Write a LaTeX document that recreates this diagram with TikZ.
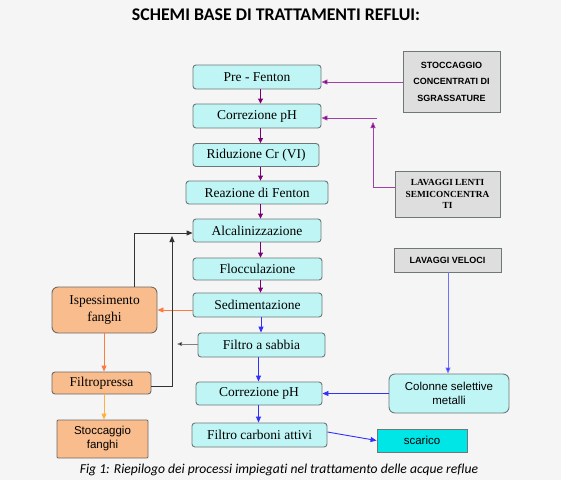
\documentclass[tikz,border=0pt]{standalone}
\usepackage{fontspec}
\setmainfont{Liberation Serif}
\setsansfont{Liberation Sans}
\newfontfamily\calfont[Ligatures=NoCommon]{Carlito}
\usetikzlibrary{arrows.meta}
\definecolor{bgc}{HTML}{F5F5F5}
\definecolor{cyanl}{HTML}{C0F5F5}
\definecolor{bordc}{HTML}{6E7878}
\definecolor{orfill}{HTML}{F9BC8C}
\definecolor{orbord}{HTML}{6E6A66}
\definecolor{grfill}{HTML}{DEDEDE}
\definecolor{scafill}{HTML}{00E6E6}
\definecolor{purl}{HTML}{A040A8}
\definecolor{purt}{HTML}{7A007A}
\definecolor{orl}{HTML}{FF7A40}
\definecolor{orl2}{HTML}{FFB040}
\definecolor{bluel}{HTML}{3030FF}
\definecolor{bluel2}{HTML}{7070FF}
\definecolor{blk}{HTML}{333333}
\begin{document}
\begin{tikzpicture}[x=1pt,y=-1pt,
  proc/.style={draw=bordc, fill=cyanl, rounded corners=3pt, line width=0.9pt, inner sep=0pt,
    font=\fontsize{13.5}{15}\selectfont},
  sludge/.style={draw=orbord, fill=orfill, line width=0.9pt, inner sep=0pt, align=center,
    font=\fontsize{13.5}{17}\selectfont},
  src/.style={draw=bordc, fill=grfill, line width=0.9pt, inner sep=0pt, align=center},
  pl/.style={draw=purl, line width=0.9pt},
  bl/.style={draw=bluel, line width=0.9pt},
]
\fill[bgc] (0,0) rectangle (561,480);
\useasboundingbox (0,0) rectangle (561,480);

\node[font=\calfont\bfseries\fontsize{17.8}{20}\selectfont] (title) at (276,15) {SCHEMI BASE DI TRATTAMENTI REFLUI:};

\node[proc, minimum width=128pt, minimum height=24pt] (pre) at (257,77) {Pre - Fenton};
\node[proc, minimum width=128pt, minimum height=24pt] (corr1) at (257,116) {Correzione pH};
\node[proc, minimum width=126pt, minimum height=23pt] (rid) at (256,155) {Riduzione Cr (VI)};
\node[proc, minimum width=142pt, minimum height=23pt] (rea) at (257,192.5) {Reazione di Fenton};
\node[proc, minimum width=128pt, minimum height=23pt] (alc) at (257,230.5) {Alcalinizzazione};
\node[proc, minimum width=129pt, minimum height=22pt] (flo) at (257.5,269) {Flocculazione};
\node[proc, minimum width=129pt, minimum height=24pt] (sed) at (257.5,305) {Sedimentazione};
\node[proc, minimum width=127pt, minimum height=24pt] (fil) at (261.5,345) {Filtro a sabbia};
\node[proc, minimum width=126pt, minimum height=23pt] (corr2) at (259,393.5) {Correzione pH};
\node[proc, minimum width=135pt, minimum height=24pt] (carb) at (259.5,435) {Filtro carboni attivi};

\node[sludge, rounded corners=6pt, minimum width=105pt, minimum height=46pt] (isp) at (104.5,310) {Ispessimento\\fanghi};
\node[sludge, rounded corners=3pt, minimum width=99pt, minimum height=22pt] (fpr) at (101.5,383) {Filtropressa};
\node[sludge, rounded corners=1pt, minimum width=91pt, minimum height=38pt,
  font=\sffamily\fontsize{11.5}{14}\selectfont] (stf) at (102.5,439) {Stoccaggio\\fanghi};

\node[src, minimum width=97pt, minimum height=61pt, font=\sffamily\bfseries\fontsize{9}{16.5}\selectfont] (stc) at (451.5,81.5) {STOCCAGGIO\\CONCENTRATI DI\\SGRASSATURE};
\node[src, minimum width=105pt, minimum height=46pt, font=\bfseries\fontsize{9.3}{11.5}\selectfont] (lav) at (447.5,194) {LAVAGGI LENTI\\SEMICONCENTRA\\TI};
\node[src, minimum width=107pt, minimum height=24pt, font=\sffamily\bfseries\fontsize{9}{11}\selectfont] (lavv) at (447.5,260) {LAVAGGI VELOCI};
\node[proc, rounded corners=6pt, align=center, minimum width=120pt, minimum height=39pt,
  font=\sffamily\fontsize{11.5}{14}\selectfont] (col) at (449,393.5) {Colonne selettive\\metalli};
\node[draw=bordc, fill=scafill, line width=0.9pt, inner sep=0pt, minimum width=90pt, minimum height=23pt,
  font=\sffamily\fontsize{11.5}{14}\selectfont] (sca) at (422,440.5) {scarico};

\node[font=\calfont\itshape\fontsize{13.6}{15}\selectfont] (cap) at (279,470) {Fig 1: Riepilogo dei processi impiegati nel trattamento delle acque reflue};

% coordinates
\coordinate (ax) at (260.5,0);
\coordinate (bx) at (258.5,0);
\coordinate (lx) at (373,122);
\coordinate (lx2) at (377,118);
\coordinate (kx) at (134,233);
\coordinate (fx) at (172,236);
\coordinate (sx) at (177,344);

% purple main chain
\foreach \a/\b in {pre/corr1,corr1/rid,rid/rea,rea/alc,alc/flo,flo/sed}{
  \draw[pl, -{Triangle[length=5pt,width=5pt,fill=purt]}, purt] (\a.south -| ax) -- (\b.north -| ax);
}
% purple side inputs
\draw[pl, -{Triangle[length=6pt,width=5pt,fill=purt]}] (stc.west |- 0,82) -- (pre.east |- 0,82);
\draw[pl, -{Triangle[length=6pt,width=5pt,fill=purt]}] (lav.west |- 0,187) -| (lx);
\draw[pl, -{Triangle[length=6pt,width=5pt,fill=purt]}] (lx2) -- (corr1.east |- lx2);

% blue chain
\draw[bl, -{Triangle[length=6pt,width=5pt]}] (sed.south -| 261,0) -- (fil.north -| 261,0);
\draw[bl, -{Triangle[length=6pt,width=5pt]}] (fil.south -| bx) -- (corr2.north -| bx);
\draw[bl, -{Triangle[length=6pt,width=5pt]}] (corr2.south -| bx) -- (carb.north -| bx);
\draw[bluel2, line width=0.9pt, -{Triangle[length=6pt,width=5pt,fill=bluel]}] (lavv.south -| 448,0) -- (col.north -| 448,0);
\draw[bl, -{Triangle[length=6pt,width=5pt]}] (col.west) -- (corr2.east);
\draw[bl, -{Triangle[length=6pt,width=5pt]}] ([yshift=3pt]carb.east) -- (sca.west);

% sludge line
\draw[orl, line width=0.9pt, -{Triangle[length=6pt,width=5pt]}] (isp.east -| sed.west) -- (isp.east);
\draw[orl, line width=0.9pt, -{Triangle[length=6pt,width=5pt]}] (isp.south -| 104,0) -- (fpr.north -| 104,0);
\draw[orl2, line width=0.9pt, -{Triangle[length=6pt,width=5pt]}] (fpr.south -| 104,0) -- (stf.north -| 104,0);

% black returns
\draw[blk, line width=0.9pt, -{Triangle[length=6pt,width=5pt]}] (isp.north -| kx) |- (alc.west |- kx);
\draw[blk, line width=0.9pt, -{Triangle[length=6pt,width=5pt]}] (fpr.east |- 0,386) -| (fx);
\draw[gray, line width=0.7pt, -{Triangle[length=5pt,width=4pt,fill=black]}] (fil.west |- sx) -- (sx);
\end{tikzpicture}
\end{document}
